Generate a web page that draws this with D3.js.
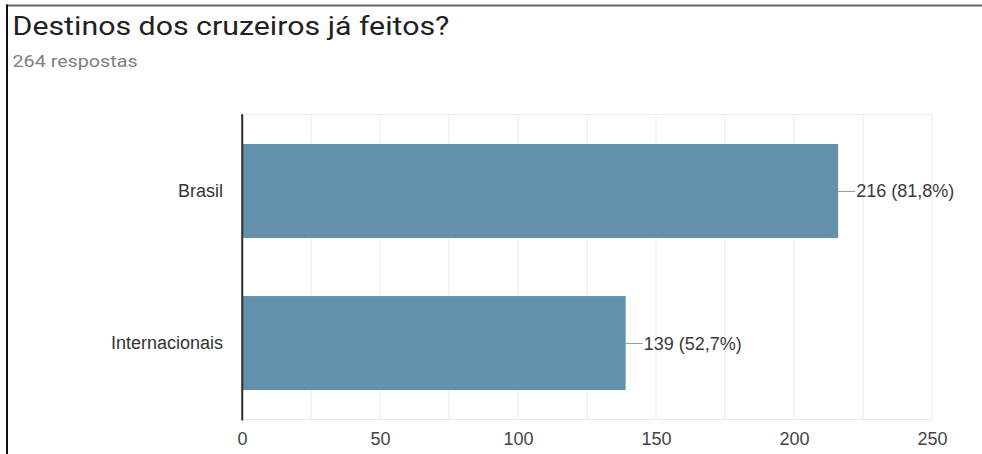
<!DOCTYPE html>
<html>
<head>
<meta charset="utf-8">
<script src="https://cdn.jsdelivr.net/npm/d3@7/dist/d3.min.js"></script>
<style>
  html, body { margin: 0; padding: 0; background: #ffffff; }
  svg { display: block; }
</style>
</head>
<body>
<svg id="chart" width="982" height="454"></svg>
<script>
const titleText = "Destinos dos cruzeiros já feitos?";
const subtitleText = "264 respostas";
const categories = ["Brasil", "Internacionais"];
const counts = [216, 139];
const percents = ["81,8%", "52,7%"];
const tickValues = [0, 50, 100, 150, 200, 250];
const gridValues = [0, 25, 50, 75, 100, 125, 150, 175, 200, 225, 250];

const svg = d3.select("#chart");
const W = 982, H = 454;
const margin = { left: 242, top: 114 };
const plotRight = 932, plotBottom = 420;

// frame lines (screenshot border)
svg.append("line").attr("x1", 6).attr("x2", W).attr("y1", 5.5).attr("y2", 5.5)
  .attr("stroke", "#666").attr("stroke-width", 2);
svg.append("line").attr("x1", 7).attr("x2", 7).attr("y1", 4.5).attr("y2", H)
  .attr("stroke", "#111").attr("stroke-width", 2);

svg.append("text").attr("transform", "translate(12.5,35) scale(1.166,1)")
  .attr("font-family", "Roboto, Arial, sans-serif").attr("font-size", 26)
  .attr("fill", "#212121").text(titleText);
svg.append("text").attr("transform", "translate(12.5,67) scale(1.16,1)")
  .attr("font-family", "Roboto, Arial, sans-serif").attr("font-size", 17)
  .attr("fill", "#808080").text(subtitleText);

const x = d3.scaleLinear().domain([0, 250]).range([margin.left, plotRight]);
const y = d3.scaleBand().domain(categories).range([margin.top, plotBottom])
  .paddingInner(0.382).paddingOuter(0.197);

// gridlines
svg.append("g").selectAll("line").data(gridValues.filter(d => d > 0)).join("line")
  .attr("x1", d => x(d)).attr("x2", d => x(d))
  .attr("y1", margin.top).attr("y2", plotBottom)
  .attr("stroke", "#ebebeb").attr("stroke-width", 1);
svg.append("line").attr("x1", margin.left).attr("x2", plotRight)
  .attr("y1", margin.top + 0.5).attr("y2", margin.top + 0.5)
  .attr("stroke", "#ebebeb");
svg.append("line").attr("x1", margin.left).attr("x2", plotRight)
  .attr("y1", plotBottom - 0.5).attr("y2", plotBottom - 0.5)
  .attr("stroke", "#ebebeb");

// bars
const data = categories.map((c, i) => ({ c, v: counts[i], p: percents[i] }));
svg.append("g").selectAll("rect").data(data).join("rect")
  .attr("x", x(0)).attr("y", d => y(d.c))
  .attr("width", d => x(d.v) - x(0)).attr("height", y.bandwidth())
  .attr("fill", "#6390aa");

// leader lines and value labels
svg.append("g").selectAll("line").data(data).join("line")
  .attr("x1", d => x(d.v)).attr("x2", d => x(d.v) + 17)
  .attr("y1", d => y(d.c) + y.bandwidth() / 2 + 0.5)
  .attr("y2", d => y(d.c) + y.bandwidth() / 2 + 0.5)
  .attr("stroke", "#9a9a9a").attr("stroke-width", 1);
svg.append("g").selectAll("text").data(data).join("text")
  .attr("x", d => x(d.v) + 18).attr("y", d => y(d.c) + y.bandwidth() / 2)
  .attr("dy", "0.36em")
  .attr("font-family", "'Liberation Sans', Arial, sans-serif").attr("font-size", 18)
  .attr("fill", "#3a3a3a").text(d => `${d.v} (${d.p})`);

// y axis
const yAxis = svg.append("g").attr("transform", `translate(${margin.left},0)`)
  .call(d3.axisLeft(y).tickSize(0).tickPadding(19));
yAxis.select(".domain").attr("stroke", "#333").attr("stroke-width", 1.5);
yAxis.selectAll("text").attr("font-family", "'Liberation Sans', Arial, sans-serif")
  .attr("font-size", 18).attr("fill", "#333");

// x axis
const xAxis = svg.append("g").attr("transform", `translate(0,${plotBottom})`)
  .call(d3.axisBottom(x).tickValues(tickValues).tickSize(0).tickPadding(12));
xAxis.select(".domain").remove();
xAxis.selectAll("text").attr("font-family", "'Liberation Sans', Arial, sans-serif")
  .attr("font-size", 18).attr("fill", "#444");

// vertical baseline at zero
svg.append("line").attr("x1", x(0)).attr("x2", x(0))
  .attr("y1", margin.top).attr("y2", plotBottom)
  .attr("stroke", "#333").attr("stroke-width", 1.5);
</script>
</body>
</html>
